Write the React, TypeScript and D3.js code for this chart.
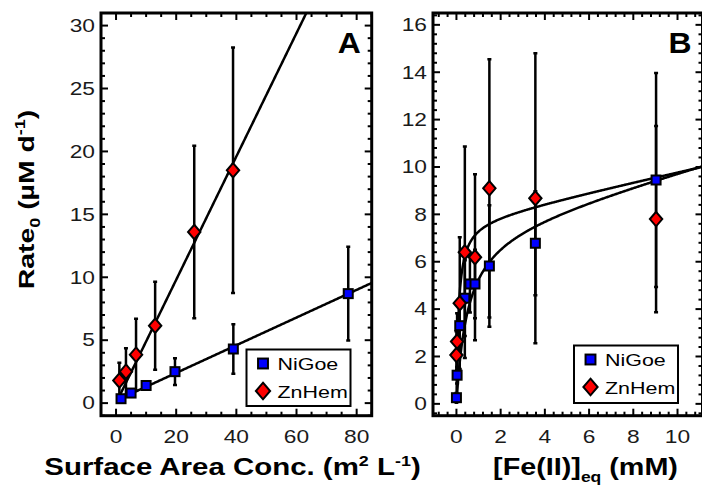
import React from 'react';
import * as d3 from 'd3';

const W = 702;
const H = 486;

// Panel A: initial rate vs. mineral surface area loading
const niGoeSA = [1.66, 5.0, 10.0, 19.6, 39.0, 77.2];
const niGoeSARate = [0.35, 0.8, 1.4, 2.5, 4.3, 8.7];
const niGoeSAErr = [0.25, 0.3, 0.3, 1.06, 1.97, 3.73];
const znHemSA = [1.1, 3.3, 6.65, 13.0, 26.0, 38.9];
const znHemSARate = [1.8, 2.5, 3.85, 6.15, 13.6, 18.5];
const znHemSAErr = [1.4, 1.85, 2.85, 3.5, 6.85, 9.75];

// Linear fits for panel A (slope, intercept)
const niGoeSAFit = [0.11, 0.2];
const znHemSAFit = [0.49, 0.0];

// Panel B: initial rate vs. equilibrium dissolved Fe(II)
const niGoeFe = [0.0, 0.03, 0.15, 0.38, 0.61, 0.84, 1.49, 3.57, 9.03];
const niGoeFeRate = [0.26, 1.21, 3.3, 4.46, 5.06, 5.06, 5.82, 6.78, 9.45];
const niGoeFeErr = [0.2, 0.35, 1.0, 1.6, 1.2, 1.45, 2.56, 2.2, 4.52];
const znHemFe = [0.0, 0.03, 0.15, 0.38, 0.84, 1.49, 3.57, 9.03];
const znHemFeRate = [2.06, 2.63, 4.25, 6.4, 6.19, 9.1, 8.68, 7.8];
const znHemFeErr = [1.0, 1.2, 2.78, 4.46, 3.5, 5.45, 6.12, 3.93];

// Saturation fits for panel B: Vmax, K, linear term
const niGoeFeFit = [7.48, 0.5, 0.258];
const znHemFeFit = [7.77, 0.1, 0.207];

// Axis ticks
const xTicksA = [0, 20, 40, 60, 80];
const yTicksA = [0, 5, 10, 15, 20, 25, 30];
const xTicksB = [0, 2, 4, 6, 8, 10];
const yTicksB = [0, 2, 4, 6, 8, 10, 12, 14, 16];

const FONT = "'Liberation Sans', Arial, sans-serif";
const BLUE = '#0000ff';
const RED = '#ff0000';
// the typeface used here is an extended sans; glyphs are widened along the baseline
const WIDE = 1.3;

type Kind = 'square' | 'diamond';
type Series = { x: number[]; y: number[]; err: number[]; kind: Kind };

function WideText({
  x,
  y,
  rotate = 0,
  sx = WIDE,
  anchor = 'start',
  size,
  weight = 'normal',
  fill = '#000',
  children,
}: {
  x: number;
  y: number;
  rotate?: number;
  sx?: number;
  anchor?: 'start' | 'middle' | 'end';
  size: number;
  weight?: string;
  fill?: string;
  children: React.ReactNode;
}) {
  return (
    <text
      transform={`translate(${x},${y}) rotate(${rotate}) scale(${sx},1)`}
      textAnchor={anchor}
      fontFamily={FONT}
      fontSize={size}
      fontWeight={weight}
      fill={fill}
    >
      {children}
    </text>
  );
}

function Marker({ kind, cx, cy, k = 1 }: { kind: Kind; cx: number; cy: number; k?: number }) {
  if (kind === 'square') {
    const s = 9 * k;
    return (
      <rect x={cx - s / 2} y={cy - s / 2} width={s} height={s} fill={BLUE} stroke="#000" strokeWidth={2} />
    );
  }
  const hw = 6.2 * k;
  const hh = 7.2 * k;
  const d = `M${cx},${cy - hh}L${cx + hw},${cy}L${cx},${cy + hh}L${cx - hw},${cy}Z`;
  return <path d={d} fill={RED} stroke="#000" strokeWidth={2} strokeLinejoin="miter" />;
}

type PanelProps = {
  id: string;
  left: number;
  right: number;
  top: number;
  bottom: number;
  xDomain: [number, number];
  yDomain: [number, number];
  xTicks: number[];
  yTicks: number[];
  xMinor: number;
  yMinor: number;
  series: Series[];
  fits: { f: (x: number) => number; x0: number; x1: number }[];
  letter: string;
  legend: { x: number; y: number; w: number; h: number };
};

function Panel(p: PanelProps) {
  const x = d3.scaleLinear().domain(p.xDomain).range([p.left, p.right]);
  const y = d3.scaleLinear().domain(p.yDomain).range([p.bottom, p.top]);
  const majorLen = 7;
  const minorLen = 4;

  const xMinorTicks = d3
    .range(Math.ceil(p.xDomain[0] / p.xMinor), Math.floor(p.xDomain[1] / p.xMinor) + 1)
    .map((i) => +(i * p.xMinor).toFixed(6));
  const yMinorTicks = d3
    .range(Math.ceil(p.yDomain[0] / p.yMinor), Math.floor(p.yDomain[1] / p.yMinor) + 1)
    .map((i) => +(i * p.yMinor).toFixed(6));

  const line = d3.line<number>().x((v) => x(v));

  const clipId = `clip-${p.id}`;

  return (
    <g>
      <defs>
        <clipPath id={clipId}>
          <rect x={p.left} y={p.top} width={p.right - p.left} height={p.bottom - p.top} />
        </clipPath>
      </defs>
      <g clipPath={`url(#${clipId})`}>
        {p.fits.map((fit, i) => {
          const xs = d3.range(0, 401).map((k) => fit.x0 + ((fit.x1 - fit.x0) * k) / 400);
          const path = line.y((v) => y(fit.f(v)))(xs) || '';
          return <path key={i} d={path} fill="none" stroke="#000" strokeWidth={2.5} />;
        })}
        {p.series.map((s, si) =>
          s.x.map((xv, i) => {
            const cx = x(xv);
            const y0 = y(s.y[i] - s.err[i]);
            const y1 = y(s.y[i] + s.err[i]);
            return (
              <g key={`e${si}-${i}`} stroke="#000" strokeWidth={2.5}>
                <line x1={cx} x2={cx} y1={y0} y2={y1} />
                <line x1={cx - 2} x2={cx + 2} y1={y0} y2={y0} />
                <line x1={cx - 2} x2={cx + 2} y1={y1} y2={y1} />
              </g>
            );
          })
        )}
        {p.series.map((s, si) =>
          s.x.map((xv, i) => <Marker key={`m${si}-${i}`} kind={s.kind} cx={x(xv)} cy={y(s.y[i])} />)
        )}
      </g>

      {/* tick marks, drawn inward on all four sides */}
      <g stroke="#000" strokeWidth={2}>
        {xMinorTicks.map((t) => {
          const len = p.xTicks.includes(t) ? majorLen : minorLen;
          return (
            <g key={`xt${t}`}>
              <line x1={x(t)} x2={x(t)} y1={p.bottom} y2={p.bottom - len} />
              <line x1={x(t)} x2={x(t)} y1={p.top} y2={p.top + len} />
            </g>
          );
        })}
        {yMinorTicks.map((t) => {
          const len = p.yTicks.includes(t) ? majorLen : minorLen;
          return (
            <g key={`yt${t}`}>
              <line x1={p.left} x2={p.left + len} y1={y(t)} y2={y(t)} />
              <line x1={p.right} x2={p.right - len} y1={y(t)} y2={y(t)} />
            </g>
          );
        })}
      </g>

      <rect
        x={p.left}
        y={p.top}
        width={p.right - p.left}
        height={p.bottom - p.top}
        fill="none"
        stroke="#000"
        strokeWidth={3}
      />

      {p.xTicks.map((t) => (
        <WideText key={`xl${t}`} x={x(t)} y={p.bottom + 27.5} anchor="middle" size={17.5} fill="#1a1a1a">
          {t}
        </WideText>
      ))}
      {p.yTicks.map((t) => (
        <WideText key={`yl${t}`} x={p.left - 6} y={y(t) + 6.3} anchor="end" size={17.5} fill="#1a1a1a">
          {t}
        </WideText>
      ))}

      <WideText x={p.right - 11} y={p.top + 40} anchor="end" size={29} weight="bold" sx={1.1}>
        {p.letter}
      </WideText>

      {/* legend */}
      <g>
        <rect
          x={p.legend.x}
          y={p.legend.y}
          width={p.legend.w}
          height={p.legend.h}
          fill="#fff"
          stroke="#000"
          strokeWidth={2}
        />
        <Marker kind="square" cx={p.legend.x + 16.5} cy={p.legend.y + 14} k={1.1} />
        <Marker kind="diamond" cx={p.legend.x + 16.5} cy={p.legend.y + 41.5} k={1.15} />
        <WideText x={p.legend.x + 31} y={p.legend.y + 20.5} size={16.5}>
          NiGoe
        </WideText>
        <WideText x={p.legend.x + 31} y={p.legend.y + 48} size={16.5}>
          ZnHem
        </WideText>
      </g>
    </g>
  );
}

export default function App() {
  const top = 13;
  const bottom = 415.7;

  const seriesA: Series[] = [
    { x: niGoeSA, y: niGoeSARate, err: niGoeSAErr, kind: 'square' },
    { x: znHemSA, y: znHemSARate, err: znHemSAErr, kind: 'diamond' },
  ];
  const seriesB: Series[] = [
    { x: niGoeFe, y: niGoeFeRate, err: niGoeFeErr, kind: 'square' },
    { x: znHemFe, y: znHemFeRate, err: znHemFeErr, kind: 'diamond' },
  ];

  const lin = (c: number[]) => (v: number) => c[0] * v + c[1];
  const sat = (c: number[]) => (v: number) => (c[0] * v) / (c[1] + v) + c[2] * v;

  return (
    <svg
      width={W}
      height={H}
      viewBox={`0 0 ${W} ${H}`}
      style={{ position: 'absolute', left: 0, top: 0, background: '#fff' }}
    >
      <rect x={0} y={0} width={W} height={H} fill="#fff" />
      <Panel
        id="a"
        left={101}
        right={371.7}
        top={top}
        bottom={bottom}
        xDomain={[-5, 85]}
        yDomain={[-1, 31]}
        xTicks={xTicksA}
        yTicks={yTicksA}
        xMinor={5}
        yMinor={1}
        series={seriesA}
        fits={[
          { f: lin(niGoeSAFit), x0: niGoeSA[0], x1: 85 },
          { f: lin(znHemSAFit), x0: znHemSA[0], x1: 85 },
        ]}
        letter="A"
        legend={{ x: 246.5, y: 349.5, w: 104, h: 56.5 }}
      />
      <Panel
        id="b"
        left={433}
        right={702.5}
        top={top}
        bottom={bottom}
        xDomain={[-1.06, 11.13]}
        yDomain={[-0.5, 16.5]}
        xTicks={xTicksB}
        yTicks={yTicksB}
        xMinor={0.4}
        yMinor={0.4}
        series={seriesB}
        fits={[
          { f: sat(niGoeFeFit), x0: 0, x1: 11.2 },
          { f: sat(znHemFeFit), x0: 0, x1: 11.2 },
        ]}
        letter="B"
        legend={{ x: 574, y: 345.5, w: 104, h: 57.5 }}
      />

      {/* axis titles */}
      <WideText x={232.5} y={475} anchor="middle" size={23} weight="bold" sx={1.28}>
        Surface Area Conc. (m
        <tspan fontSize={14} dy={-9}>2</tspan>
        <tspan dy={9}> L</tspan>
        <tspan fontSize={14} dy={-9}>-1</tspan>
        <tspan dy={9}>)</tspan>
      </WideText>
      <WideText x={585.5} y={475} anchor="middle" size={23} weight="bold" sx={1.25}>
        [Fe(II)]
        <tspan fontSize={14} dy={7}>eq</tspan>
        <tspan dy={-7}> (mM)</tspan>
      </WideText>
      <WideText x={33.5} y={199.5} rotate={-90} anchor="middle" size={22} weight="bold" sx={1.29}>
        Rate
        <tspan fontSize={14} dy={6}>0</tspan>
        <tspan dy={-6}> (µM d</tspan>
        <tspan fontSize={14} dy={-9}>-1</tspan>
        <tspan dy={9}>)</tspan>
      </WideText>
    </svg>
  );
}
